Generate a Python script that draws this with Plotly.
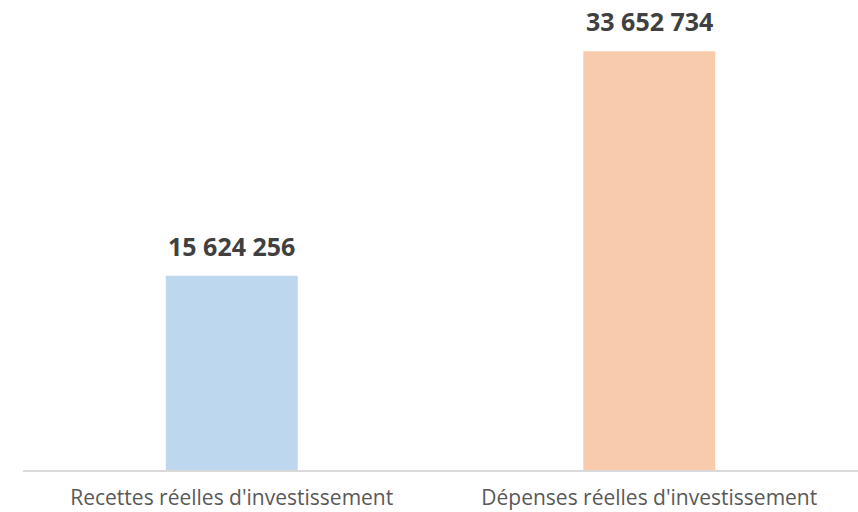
import plotly.graph_objects as go

categories = ["Recettes réelles d'investissement", "Dépenses réelles d'investissement"]
values = [15624256, 33652734]
colors = ["#bdd7ee", "#f8cbad"]
value_labels = ["15 624 256", "33 652 734"]

fig = go.Figure()
fig.add_trace(go.Bar(
    x=categories, y=values, marker=dict(color=colors, line=dict(width=0)),
    width=0.316, hoverinfo="skip",
))

for c, v, t in zip(categories, values, value_labels):
    fig.add_annotation(x=c, y=v, text="<b>%s</b>" % t, showarrow=False,
                       yanchor="bottom", yshift=11,
                       font=dict(family="Open Sans", size=25, color="#404040"))

fig.update_layout(
    width=858, height=512,
    margin=dict(l=23, r=0, t=0, b=42, autoexpand=False),
    paper_bgcolor="white", plot_bgcolor="white",
    showlegend=False,
    xaxis=dict(showline=True, linecolor="#d9d9d9", linewidth=1.5, ticks="",
               tickfont=dict(family="Open Sans", size=21, color="#595959"),
               ticklabelstandoff=8,
               showgrid=False, zeroline=False, automargin=False),
    yaxis=dict(range=[0, 37780000], visible=False, showgrid=False, zeroline=False),
)

fig.write_html("out.html",
               config={"displayModeBar": False, "staticPlot": True},
               post_script="document.body.style.margin='0';document.body.style.overflow='hidden';")
